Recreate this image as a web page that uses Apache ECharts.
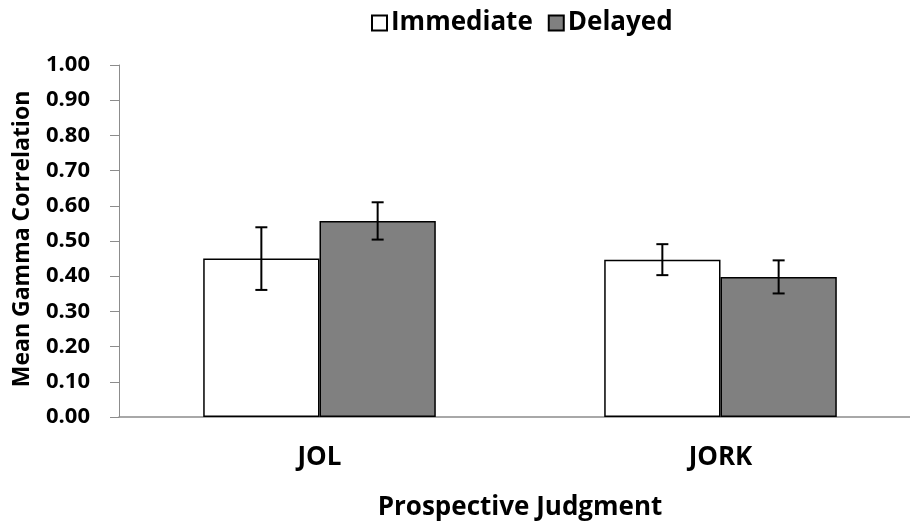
<!DOCTYPE html>
<html>
<head>
<meta charset="utf-8">
<script src="https://cdn.jsdelivr.net/npm/echarts@6/dist/echarts.min.js"></script>
<style>html,body{margin:0;padding:0;background:#fff;}#c{width:910px;height:525px;}</style>
</head>
<body>
<div id="c"></div>
<script>
var categories = ['JOL', 'JORK'];
var immediate = [0.45, 0.447];
var delayed = [0.557, 0.398];
var immediateErr = [0.089, 0.044];
var delayedErr = [0.053, 0.047];
var yTicks = [0, 0.1, 0.2, 0.3, 0.4, 0.5, 0.6, 0.7, 0.8, 0.9, 1.0];

var FONT = 'Open Sans';
var gapFrac = 0.42;

function errData(vals, errs) {
  return vals.map(function (v, i) { return [i, v - errs[i], v + errs[i]]; });
}
function errSeries(name, vals, errs, sign) {
  return {
    type: 'custom',
    name: name + ' err',
    z: 10,
    silent: true,
    data: errData(vals, errs),
    renderItem: function (params, api) {
      var band = api.size([1, 0])[0];
      var barW = band * (1 - gapFrac) / 2;
      var off = sign * barW / 2;
      var lo = api.coord([api.value(0), api.value(1)]);
      var hi = api.coord([api.value(0), api.value(2)]);
      var x = lo[0] + off;
      var cap = 6;
      var st = { stroke: '#000', lineWidth: 2 };
      return {
        type: 'group',
        children: [
          { type: 'line', shape: { x1: x, y1: lo[1], x2: x, y2: hi[1] }, style: st },
          { type: 'line', shape: { x1: x - cap, y1: lo[1], x2: x + cap, y2: lo[1] }, style: st },
          { type: 'line', shape: { x1: x - cap, y1: hi[1], x2: x + cap, y2: hi[1] }, style: st }
        ]
      };
    }
  };
}

var chart = echarts.init(document.getElementById('c'));
chart.setOption({
  animation: false,
  textStyle: { fontFamily: FONT },
  legend: {
    data: [{ name: 'Immediate', icon: 'rect' }, { name: 'Delayed', icon: 'rect' }],
    left: 366, top: 5,
    itemWidth: 15, itemHeight: 15, itemGap: 15,
    textStyle: { fontFamily: FONT, fontWeight: 'bold', fontSize: 26, color: '#000', padding: [0, 0, 0, -1] }
  },
  grid: { left: 119, top: 65, width: 802, height: 352, containLabel: false, outerBoundsMode: 'none' },
  xAxis: {
    type: 'category',
    data: categories,
    name: 'Prospective Judgment',
    nameLocation: 'middle',
    nameGap: 78,
    nameTextStyle: { fontFamily: FONT, fontWeight: 'bold', fontSize: 26, color: '#000' },
    axisLine: { show: true, lineStyle: { color: '#8c8c8c', width: 1.5 } },
    axisTick: { show: false },
    axisLabel: { margin: 28, fontFamily: FONT, fontWeight: 'bold', fontSize: 26, color: '#000' }
  },
  yAxis: {
    type: 'value',
    min: 0, max: 1, interval: 0.1,
    name: 'Mean Gamma Correlation',
    nameLocation: 'middle',
    nameGap: 85,
    nameRotate: 90,
    nameTextStyle: { fontFamily: FONT, fontWeight: 'bold', fontSize: 23, color: '#000', padding: [0, 0, 0, 4] },
    splitLine: { show: false },
    axisLine: { show: true, lineStyle: { color: '#8c8c8c', width: 1 } },
    axisTick: { show: true, inside: false, length: 9, lineStyle: { color: '#8c8c8c' } },
    axisLabel: {
      margin: 29, fontFamily: FONT, fontWeight: 'bold', fontSize: 22, color: '#000',
      formatter: function (v) { return v.toFixed(2); }
    }
  },
  series: [
    {
      name: 'Immediate', type: 'bar', data: immediate,
      barGap: '0%', barCategoryGap: (gapFrac * 100) + '%',
      itemStyle: { color: '#ffffff', borderColor: '#000', borderWidth: 1.5 }
    },
    {
      name: 'Delayed', type: 'bar', data: delayed,
      barGap: '0%', barCategoryGap: (gapFrac * 100) + '%',
      itemStyle: { color: '#808080', borderColor: '#000', borderWidth: 1.5 }
    },
    errSeries('Immediate', immediate, immediateErr, -1),
    errSeries('Delayed', delayed, delayedErr, 1)
  ]
});
</script>
</body>
</html>
